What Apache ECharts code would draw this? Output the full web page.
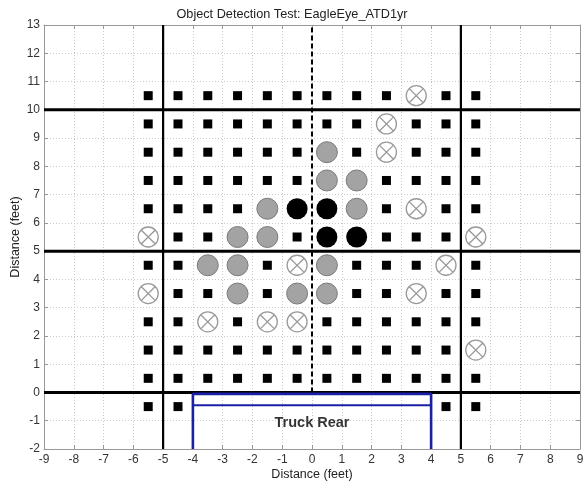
<!DOCTYPE html>
<html>
<head>
<meta charset="utf-8">
<script src="https://cdn.jsdelivr.net/npm/echarts@6/dist/echarts.min.js"></script>
<style>
  html, body { margin: 0; padding: 0; background: #fff; }
  #chart { width: 584px; height: 484px; }
</style>
</head>
<body>
<div id="chart"></div>
<script>
// ---- Data ----
const titleText = 'Object Detection Test: EagleEye_ATD1yr';
const xAxisName = 'Distance (feet)';
const yAxisName = 'Distance (feet)';
const xColumns = [-5.5, -4.5, -3.5, -2.5, -1.5, -0.5, 0.5, 1.5, 2.5, 3.5, 4.5, 5.5];
const yRows = [10.5, 9.5, 8.5, 7.5, 6.5, 5.5, 4.5, 3.5, 2.5, 1.5, 0.5, -0.5];
// S = small square, G = gray circle, B = black circle, X = crossed circle, . = none
const rowCodes = [
  'SSSSSSSSSXSS',
  'SSSSSSSSXSSS',
  'SSSSSSGSXSSS',
  'SSSSSSGGSSSS',
  'SSSSGBBGSXSS',
  'XSSGGSBBSSSX',
  'SSGGSXGSSSXS',
  'XSSGSGGSSXSS',
  'SSXSXXSSSSSS',
  'SSSSSSSSSSSX',
  'SSSSSSSSSSSS',
  'SS........SS'
];
const thickVerticalX = [-5, 5];
const thickHorizontalY = [0, 5, 10];
const dashedCenterX = 0;
const dashedRangeY = [0, 13];
const truckX = [-4, 4];
const truckTopY = -0.05;
const truckInnerY = -0.45;
const truckBottomY = -2;
const truckLabel = 'Truck Rear';
const truckLabelPos = [0, -1.07];
const xRange = [-9, 9];
const yRange = [-2, 13];

// ---- Build point sets ----
const pts = { S: [], G: [], B: [], X: [] };
rowCodes.forEach((row, ri) => {
  row.split('').forEach((c, ci) => {
    if (pts[c]) pts[c].push([xColumns[ci], yRows[ri]]);
  });
});

const crossPath = 'path://M0,10A10,10,0,1,1,20,10A10,10,0,1,1,0,10Z M2.93,2.93L17.07,17.07 M17.07,2.93L2.93,17.07';
const font = 'Liberation Sans, Arial, sans-serif';

function lineSeries(data, style, z) {
  return {
    type: 'line', data: data, symbol: 'none', silent: true,
    lineStyle: style, z: z || 2, animation: false, clip: false
  };
}

const series = [];
thickVerticalX.forEach(x => series.push(lineSeries([[x, yRange[0]], [x, yRange[1]]], { color: '#000', width: 2.2 })));
thickHorizontalY.forEach(y => series.push(lineSeries([[xRange[0], y], [xRange[1], y]], { color: '#000', width: 3 })));
series.push(lineSeries([[dashedCenterX, dashedRangeY[0]], [dashedCenterX, dashedRangeY[1]]], { color: '#000', width: 2, type: [5, 3] }));
// truck rectangle
series.push(lineSeries([[truckX[0], truckBottomY], [truckX[0], truckTopY], [truckX[1], truckTopY], [truckX[1], truckBottomY]], { color: '#1a1fa3', width: 2.6 }, 3));
series.push(lineSeries([[truckX[0], truckInnerY], [truckX[1], truckInnerY]], { color: '#1a1fa3', width: 2 }, 3));

series.push({
  type: 'scatter', data: pts.S, symbol: 'rect', symbolSize: 9,
  itemStyle: { color: '#000', opacity: 1 }, z: 5, animation: false
});
series.push({
  type: 'scatter', data: pts.G, symbol: 'circle', symbolSize: 21,
  itemStyle: { color: '#a3a3a3', borderColor: '#7a7a7a', borderWidth: 1, opacity: 1 }, z: 5, animation: false
});
series.push({
  type: 'scatter', data: pts.B, symbol: 'circle', symbolSize: 21,
  itemStyle: { color: '#000', opacity: 1 }, z: 5, animation: false
});
series.push({
  type: 'scatter', data: pts.X, symbol: crossPath, symbolSize: 20,
  itemStyle: { color: '#fff', borderColor: '#999', borderWidth: 1.3, opacity: 1 }, z: 5, animation: false
});
series.push({
  type: 'scatter', data: [truckLabelPos], symbolSize: 0, z: 6, animation: false,
  label: { show: true, position: 'inside', formatter: truckLabel, fontFamily: font,
           fontSize: 14.5, fontWeight: 'bold', color: '#000' }
});

const axisLine = { show: true, onZero: false, lineStyle: { color: '#999', width: 1 } };
const axisTick = { show: true, inside: true, length: 4, lineStyle: { color: '#999' } };
const splitLine = { show: true, lineStyle: { color: '#cacaca', width: 1, type: [1, 2] } };

const option = {
  animation: false,
  backgroundColor: '#fff',
  title: {
    text: titleText, left: 'center', top: 3,
    textStyle: { fontFamily: font, fontSize: 12.7, fontWeight: 'normal', color: '#222' }
  },
  grid: { left: 44, right: 4, top: 25, bottom: 35, containLabel: false, outerBoundsMode: 'none' },
  xAxis: [{
    type: 'value', min: xRange[0], max: xRange[1], interval: 1,
    name: xAxisName, nameLocation: 'middle', nameGap: 19, nameMoveOverlap: false,
    nameTextStyle: { fontFamily: font, fontSize: 12.5, color: '#222' },
    axisLine: axisLine, axisTick: axisTick, splitLine: splitLine,
    axisLabel: { fontFamily: font, fontSize: 12, color: '#333', margin: 5 }
  }, {
    type: 'value', position: 'top', min: xRange[0], max: xRange[1], interval: 1,
    axisLine: axisLine, axisTick: axisTick, splitLine: { show: false }, axisLabel: { show: false }
  }],
  yAxis: [{
    type: 'value', min: yRange[0], max: yRange[1], interval: 1,
    name: yAxisName, nameLocation: 'middle', nameGap: 22, nameMoveOverlap: false,
    nameTextStyle: { fontFamily: font, fontSize: 12.5, color: '#222' },
    axisLine: axisLine, axisTick: axisTick, splitLine: splitLine,
    axisLabel: { fontFamily: font, fontSize: 12, color: '#333', margin: 4 }
  }, {
    type: 'value', position: 'right', min: yRange[0], max: yRange[1], interval: 1,
    axisLine: axisLine, axisTick: axisTick, splitLine: { show: false }, axisLabel: { show: false }
  }],
  series: series
};

const chart = echarts.init(document.getElementById('chart'), null, { renderer: 'canvas' });
chart.setOption(option);
</script>
</body>
</html>
